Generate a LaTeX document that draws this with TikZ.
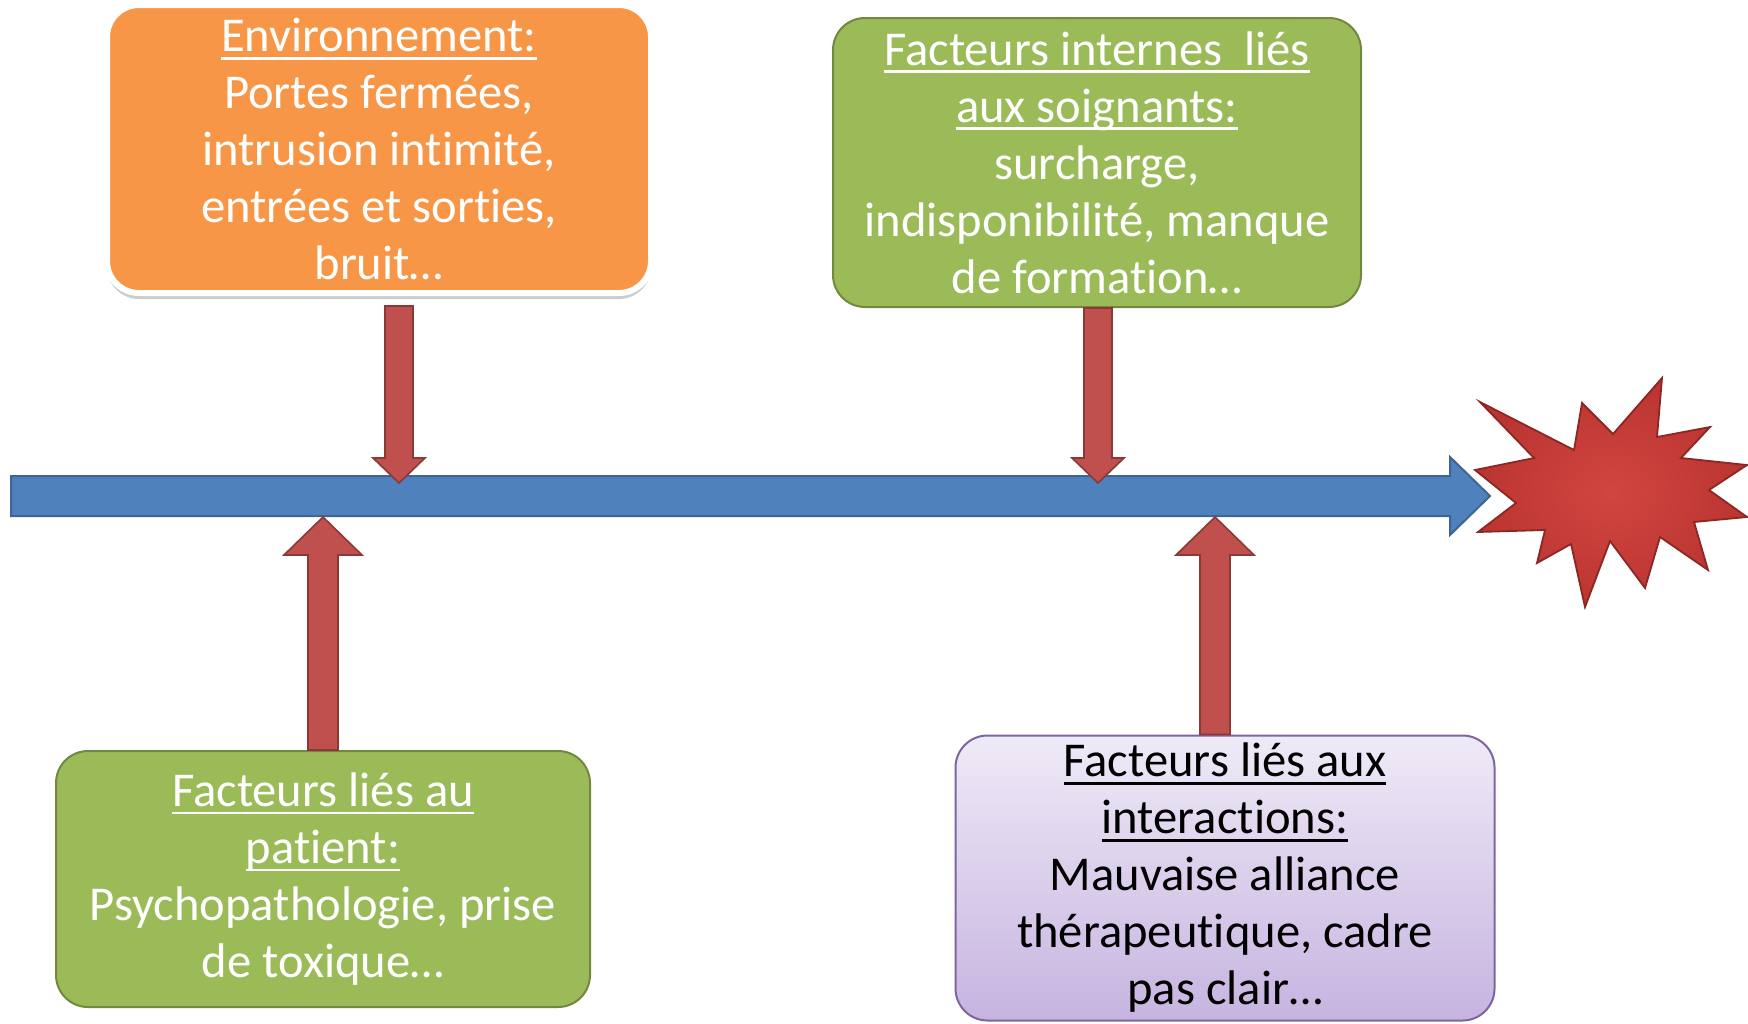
\documentclass[tikz,border=0pt]{standalone}
\usepackage{fontspec}
\setmainfont{Carlito}[Ligatures={NoCommon,NoRare}, RawFeature={-liga,-clig,-dlig}]
\usetikzlibrary{shadows,calc}
\definecolor{orangeF}{HTML}{F79646}
\definecolor{greenF}{HTML}{9BBB59}
\definecolor{greenD}{HTML}{71893F}
\definecolor{purpleT}{HTML}{EFEAF7}
\definecolor{purpleB}{HTML}{C6B4E0}
\definecolor{purpleD}{HTML}{8064A2}
\definecolor{blueF}{HTML}{4F81BD}
\definecolor{blueD}{HTML}{3F6594}
\definecolor{redF}{HTML}{C0504D}
\definecolor{redD}{HTML}{8C3836}
\definecolor{starIn}{HTML}{D24540}
\definecolor{starOut}{HTML}{BA3531}
\definecolor{starD}{HTML}{8B2724}
\newlength\ulwd
\newcommand\uln[1]{\settowidth\ulwd{#1}\rlap{\rule[-4pt]{\ulwd}{1.4pt}}#1}
\newcommand\blockarr[5]{%
  \draw[redarrow] let \p1=(#1), \p2=(#2), \n1={sign(\y2-\y1)} in
    ({\x1-#3},\y1) -- ({\x1+#3},\y1) -- ({\x1+#3},{\y2-(\n1)*#5}) -- ({\x1+#4},{\y2-(\n1)*#5})
    -- (\x2,\y2) -- ({\x1-#4},{\y2-(\n1)*#5}) -- ({\x1-#3},{\y2-(\n1)*#5}) -- cycle;}
\begin{document}
\begin{tikzpicture}[x=0.5pt,y=-0.5pt,
  infobox/.style={rounded corners=16pt, align=center, inner sep=0pt,
    font=\fontsize{24.3}{28.5}\selectfont},
  redarrow/.style={fill=redF, draw=redD, line width=0.8pt},
  bluearrow/.style={fill=blueF, draw=blueD, line width=1pt},
  starstyle/.style={shading=radial, inner color=starIn, outer color=starOut, draw=starD, line width=0.9pt}]
\useasboundingbox (0,0) rectangle (1748,1023);

% boxes
\node[infobox, fill=orangeF, draw=white, line width=3pt, text=white,
  drop shadow={shadow xshift=0pt, shadow yshift=-3pt, opacity=0.4},
  minimum width=272pt, minimum height=144pt] (env) at (379,149)
  {\uln{Environnement:}\\Portes fermées,\\intrusion intimité,\\entrées et sorties,\\bruit…};
\node[infobox, fill=greenF, draw=greenD, line width=1pt, text=white,
  minimum width=264pt, minimum height=144.5pt] (soign) at (1097,162.5)
  {\uln{Facteurs internes\ \ liés}\\\uln{aux soignants:}\\surcharge,\\indisponibilité, manque\\de formation…};
\node[infobox, fill=greenF, draw=greenD, line width=1pt, text=white,
  minimum width=267pt, minimum height=128pt] (patient) at (323,879)
  {\uln{Facteurs liés au}\\\uln{patient:}\\Psychopathologie, prise\\de toxique…};
\node[infobox, top color=purpleT, bottom color=purpleB, draw=purpleD, line width=1pt, text=black,
  minimum width=269.5pt, minimum height=142.5pt] (inter) at (1225,878)
  {\uln{Facteurs liés aux}\\\uln{interactions:}\\Mauvaise alliance\\thérapeutique, cadre\\pas clair…};

% timeline arrow
\coordinate (barstart) at (11,496);
\coordinate (bartip) at (1490,496);
\draw[bluearrow] (11,476) -- (1450,476) -- (1450,457) -- (bartip)
  -- (1450,535) -- (1450,516) -- (11,516) -- cycle;

% red block arrows
\coordinate (d1top) at ([yshift=-5pt]399,0 |- env.south);
\coordinate (d2top) at (1098,0 |- soign.south);
\coordinate (u1bot) at (323,0 |- patient.north);
\coordinate (u2bot) at (1215,0 |- inter.north);
\coordinate (d1tip) at (399,483);
\coordinate (d2tip) at (1098,483);
\coordinate (u1tip) at (323,517);
\coordinate (u2tip) at (1215,517);
\blockarr{d1top}{d1tip}{7pt}{13pt}{12.5pt}
\blockarr{d2top}{d2tip}{7pt}{13pt}{12.5pt}
\blockarr{u1bot}{u1tip}{7.5pt}{19.5pt}{19pt}
\blockarr{u2bot}{u2tip}{7.5pt}{19.5pt}{19pt}

% explosion
\draw[starstyle] (1475,470) -- (1534,458) -- (1480,402) -- (1574,450) -- (1582,403)
  -- (1613,434) -- (1662,378) -- (1657,437) -- (1710,427) -- (1681,458) -- (1747,465)
  -- (1709,490) -- (1747,517) -- (1694,522) -- (1708,570) -- (1660,537) -- (1645,588)
  -- (1610,541) -- (1585,607) -- (1571,544) -- (1537,563) -- (1545,530) -- (1478,532)
  -- (1516,503) -- cycle;
\end{tikzpicture}
\end{document}
